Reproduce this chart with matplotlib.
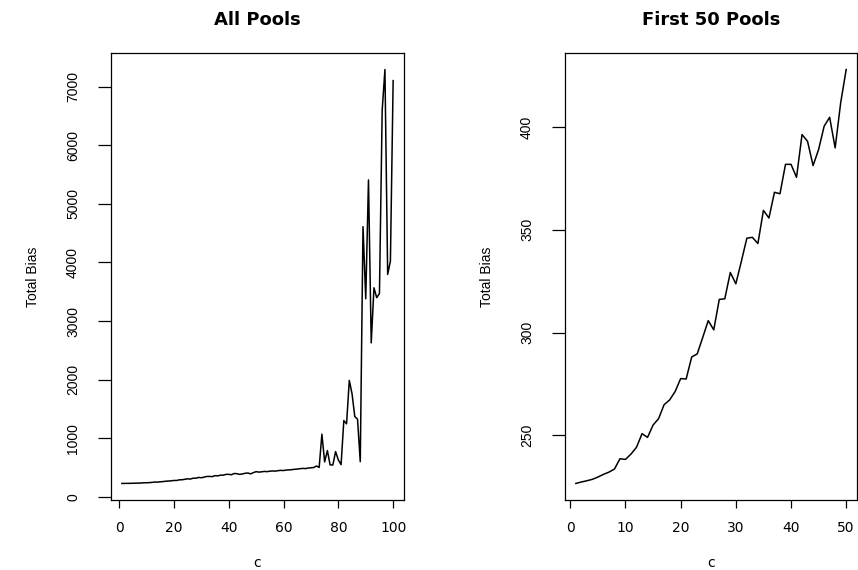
import numpy as np
import matplotlib.pyplot as plt

plt.rcParams['font.family'] = ['DejaVu Sans']

# ------------------ DATE ------------------
# total bias for c = 1..50 (first 50 pools)
bias_first50 = [226.6, 227.3, 227.9, 228.6, 229.7, 231.0, 232.1, 233.6, 238.6, 238.3,
                240.9, 244.2, 250.8, 249.0, 255.0, 258.1, 264.9, 267.2, 271.3, 277.6,
                277.4, 288.1, 289.6, 297.6, 305.8, 301.3, 316.1, 316.4, 329.2, 323.7,
                334.6, 345.9, 346.3, 343.3, 359.4, 355.7, 368.2, 367.5, 381.8, 381.8,
                375.5, 396.3, 393.0, 381.2, 389.0, 400.3, 404.7, 389.8, 411.7, 427.9]

# total bias for c = 51..100
bias_rest = [420, 425, 432, 428, 436, 440, 437, 445, 450, 447,
             455, 458, 462, 468, 472, 478, 484, 480, 490, 494,
             498, 525, 500, 1068, 594, 788, 543, 543, 770, 628,
             548, 1301, 1245, 1986, 1758, 1370, 1324, 599, 4612, 3380,
             5410, 2627, 3568, 3400, 3470, 6600, 7295, 3796, 4024, 7106]

bias_all = bias_first50 + bias_rest
c_all = np.arange(1, len(bias_all) + 1)
c_first = np.arange(1, len(bias_first50) + 1)

# ------------------ FIGURA ------------------
fig = plt.figure(figsize=(8.58, 5.70), dpi=100)
ax1 = fig.add_axes([111 / 858, 70 / 570, 293 / 858, 447 / 570])
ax2 = fig.add_axes([565 / 858, 70 / 570, 292 / 858, 447 / 570])

rot_font = ['Liberation Sans', 'DejaVu Sans']


def r_style(ax, x, y, title, xticks, yticks):
    ax.plot(x, y, color="black", lw=1.1)
    xr = x.max() - x.min()
    ax.set_xlim(x.min() - 0.04 * xr, x.max() + 0.04 * xr)
    yr = max(y) - min(y)
    ax.set_ylim(min(y) - 0.04 * yr, max(y) + 0.04 * yr)
    ax.set_xticks(xticks)
    ax.set_yticks(yticks)
    ax.tick_params(axis="x", length=5.5, width=0.9, pad=9.5, labelsize=10)
    ax.tick_params(axis="y", length=9.4, width=0.9, pad=12.9, labelsize=10)
    for lab in ax.get_yticklabels():
        lab.set_rotation(90)
        lab.set_va("center")
        lab.set_family(rot_font)
    for s in ax.spines.values():
        s.set_linewidth(0.9)
    ax.set_title(title, fontsize=13, fontweight="bold", pad=20)
    ax.set_xlabel("c", fontsize=10, labelpad=15)
    ax.set_ylabel("Total Bias", fontsize=10, labelpad=18.7, family=rot_font)


r_style(ax1, c_all, bias_all, "All Pools",
        [0, 20, 40, 60, 80, 100], [0, 1000, 2000, 3000, 4000, 5000, 6000, 7000])
r_style(ax2, c_first, bias_first50, "First 50 Pools",
        [0, 10, 20, 30, 40, 50], [250, 300, 350, 400])

fig.savefig("out.png", dpi=100)
